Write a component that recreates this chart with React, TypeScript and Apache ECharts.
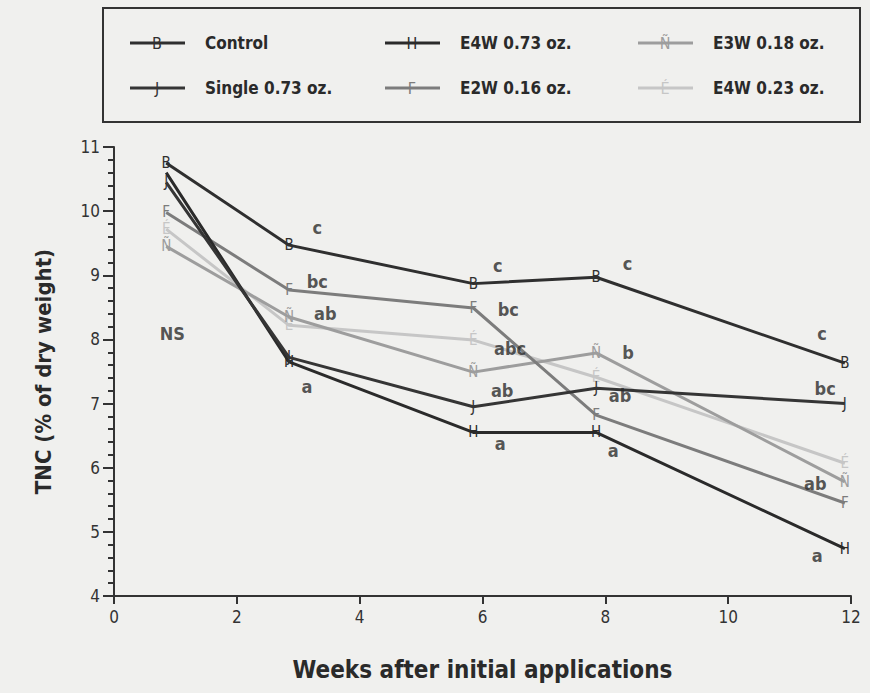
import React, { useEffect, useRef } from "react";
import * as echarts from "echarts";

const weeks = [0.85, 2.85, 5.85, 7.85, 11.9];
const control = [10.75, 9.47, 8.87, 8.97, 7.63];
const single073 = [10.45, 7.72, 6.95, 7.24, 7.0];
const e4w073 = [10.6, 7.65, 6.55, 6.55, 4.74];
const e2w016 = [9.98, 8.77, 8.49, 6.82, 5.45];
const e3w018 = [9.45, 8.35, 7.49, 7.79, 5.78];
const e4w023 = [9.72, 8.22, 7.99, 7.41, 6.07];

const seriesNames = ["Control", "Single 0.73 oz.", "E4W 0.73 oz.", "E2W 0.16 oz.", "E3W 0.18 oz.", "E4W 0.23 oz."];
const seriesMarks = ["B", "J", "H", "F", "Ñ", "É"];
const seriesValues = [control, single073, e4w073, e2w016, e3w018, e4w023];
const seriesColors = ["#2f2f2f", "#353535", "#2a2a2a", "#7c7c7c", "#9d9d9d", "#c6c6c6"];
// marker letters hidden under another series' marker in the reference: [series, point]
const hiddenMarks: [number, number][] = [[2, 0]];

// significance letters: [x, y, text]
const annotations: [number, number, string][] = [
  [0.95, 8.1, "NS"],
  [3.31, 9.74, "c"], [3.31, 8.9, "bc"], [3.44, 8.41, "ab"], [3.14, 7.26, "a"],
  [6.25, 9.16, "c"], [6.42, 8.46, "bc"], [6.45, 7.86, "abc"], [6.32, 7.21, "ab"], [6.29, 6.38, "a"],
  [8.36, 9.19, "c"], [8.37, 7.8, "b"], [8.24, 7.13, "ab"], [8.13, 6.27, "a"],
  [11.53, 8.1, "c"], [11.58, 7.24, "bc"], [11.42, 5.76, "ab"], [11.45, 4.63, "a"],
];

const FONT = "'Liberation Sans Narrow', 'DejaVu Sans Condensed', 'Liberation Sans', sans-serif";

export default function App() {
  const ref = useRef<HTMLDivElement>(null);
  useEffect(() => {
    if (!ref.current) return;
    const chart = echarts.init(ref.current, null, { renderer: "svg" });

    const lineSeries = seriesNames.map((name, i) => ({
      name,
      type: "line",
      data: weeks.map((w, j) => {
        const hidden = hiddenMarks.some(([s, p]) => s === i && p === j);
        return hidden
          ? { value: [w, seriesValues[i][j]], label: { show: false } }
          : { value: [w, seriesValues[i][j]] };
      }),
      symbol: "circle",
      symbolSize: 0.1,
      lineStyle: { color: seriesColors[i], width: 3 },
      itemStyle: { color: seriesColors[i] },
      label: {
        show: true,
        position: "inside",
        formatter: seriesMarks[i],
        color: seriesColors[i],
        fontFamily: FONT,
        fontSize: 15,
      },
      z: 10 - i,
    }));

    const legendItems: any[] = [];
    const cols = [130, 385, 638];
    const rows = [43, 88];
    const order = [
      [0, 0], [2, 1], [4, 2],
      [1, 0], [3, 1], [5, 2],
    ];
    order.forEach(([si, ci], k) => {
      const row = k < 3 ? 0 : 1;
      const x0 = cols[ci];
      const y0 = rows[row];
      legendItems.push({
        type: "line",
        shape: { x1: x0, y1: y0, x2: x0 + 55, y2: y0 },
        style: { stroke: seriesColors[si], lineWidth: 3 },
      });
      legendItems.push({
        type: "text",
        x: x0 + 27,
        y: y0,
        style: {
          text: seriesMarks[si],
          fill: seriesColors[si],
          font: `16px ${FONT}`,
          textAlign: "center",
          textVerticalAlign: "middle",
        },
      });
      legendItems.push({
        type: "text",
        x: x0 + 75,
        y: y0,
        style: {
          text: seriesNames[si],
          fill: "#2a2a2a",
          font: `bold 17px ${FONT}`,
          textAlign: "left",
          textVerticalAlign: "middle",
        },
      });
    });

    chart.setOption({
      animation: false,
      backgroundColor: "#f0f0ee",
      grid: { left: 114, right: 19, top: 147, bottom: 97 },
      xAxis: {
        type: "value",
        min: 0,
        max: 12,
        interval: 2,
        name: "Weeks after initial applications",
        nameLocation: "middle",
        nameGap: 62,
        nameTextStyle: { fontFamily: FONT, fontWeight: "bold", fontSize: 24, color: "#2a2a2a" },
        axisLine: { lineStyle: { color: "#333", width: 2 } },
        axisTick: { show: true, inside: false, length: 8, lineStyle: { color: "#333", width: 2 } },
        axisLabel: { fontFamily: FONT, fontSize: 17, color: "#333", margin: 12 },
        splitLine: { show: false },
      },
      yAxis: {
        type: "value",
        min: 4,
        max: 11,
        interval: 1,
        name: "TNC (% of dry weight)",
        nameLocation: "middle",
        nameGap: 60,
        nameRotate: 90,
        nameTextStyle: { fontFamily: FONT, fontWeight: "bold", fontSize: 22, color: "#2a2a2a" },
        axisLine: { show: true, lineStyle: { color: "#333", width: 2 } },
        axisTick: { show: true, inside: false, length: 11, lineStyle: { color: "#333", width: 2 } },
        minorTick: { show: true, splitNumber: 5, length: 6, lineStyle: { color: "#333", width: 2 } },
        axisLabel: { fontFamily: FONT, fontSize: 17, color: "#333", margin: 14 },
        splitLine: { show: false },
      },
      series: [
        ...lineSeries,
        {
          type: "scatter",
          data: annotations.map((a) => [a[0], a[1], a[2]]),
          symbolSize: 0.1,
          itemStyle: { color: "rgba(0,0,0,0)" },
          label: {
            show: true,
            position: "inside",
            formatter: (p: any) => p.data[2],
            fontFamily: FONT,
            fontWeight: "bold",
            fontSize: 18,
            color: "#2a2a2a",
          },
          z: 20,
        },
      ],
      graphic: [
        {
          type: "rect",
          shape: { x: 103, y: 8, width: 757, height: 114 },
          style: { fill: "none", stroke: "#333", lineWidth: 2 },
        },
        ...legendItems,
      ],
    });
    return () => chart.dispose();
  }, []);
  return <div ref={ref} style={{ width: 870, height: 693, position: "absolute", left: 0, top: 0 }} />;
}
